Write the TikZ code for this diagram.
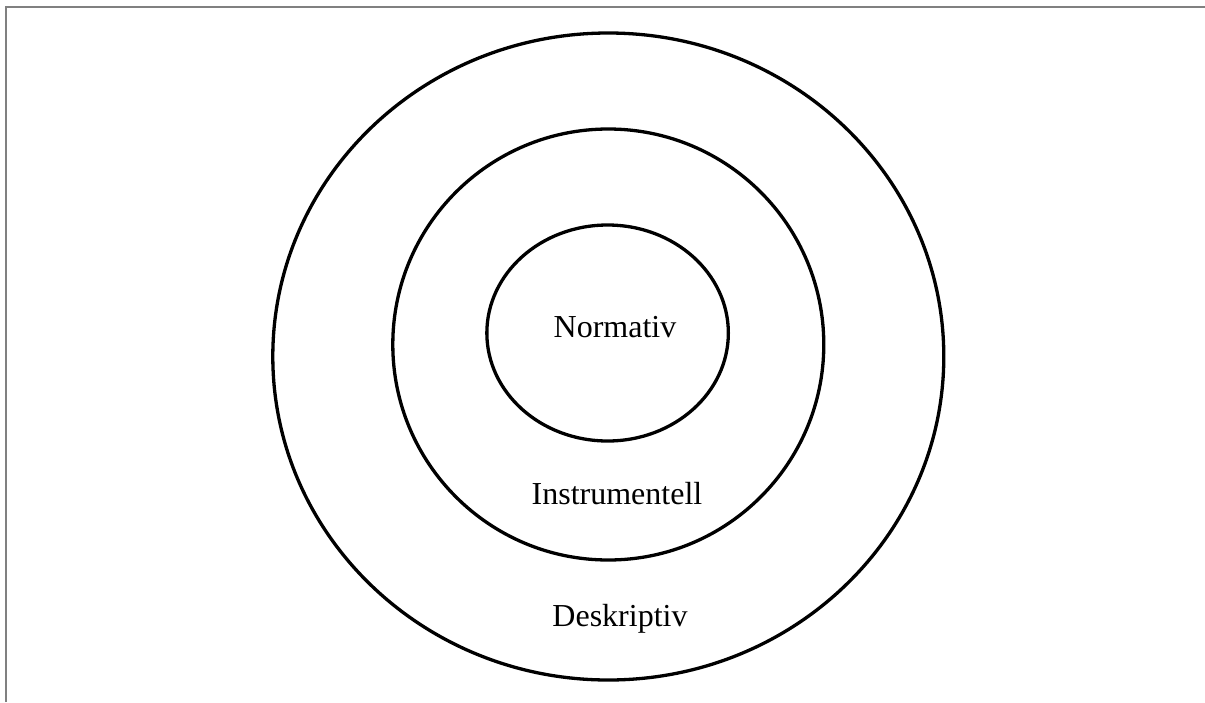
\documentclass[tikz,border=0pt]{standalone}
\usepackage{fontspec}
\setmainfont{Liberation Serif}
\usetikzlibrary{shapes.geometric}
\begin{document}
\begin{tikzpicture}[x=1pt,y=-1pt,
  ring/.style={draw=black,line width=3.3pt,ellipse,inner sep=0pt,outer sep=0pt},
  lbl/.style={font=\fontsize{32}{37}\selectfont,inner sep=0pt,anchor=base},
  frame/.style={draw=gray,line width=2pt}]
\useasboundingbox (0,0) rectangle (1205,702);
\fill[white] (0,0) rectangle (1205,702);
\coordinate (fa) at (6,702);
\coordinate (fb) at (6,7);
\coordinate (fc) at (1205,7);
\draw[frame] (fa) -- (fb) -- (fc);
\node[ring,minimum width=671pt,minimum height=647pt] (outer) at (608.3,356.5) {};
\node[ring,minimum width=431pt,minimum height=431pt] (middle) at (608.3,344.5) {};
\node[ring,minimum width=241.5pt,minimum height=216pt] (inner) at (607.6,333) {};
\node[lbl] (norm) at (615,337) {Normativ};
\node[lbl] (instr) at (617,504) {Instrumentell};
\node[lbl] (desk) at (620,626) {Deskriptiv};
\end{tikzpicture}
\end{document}
